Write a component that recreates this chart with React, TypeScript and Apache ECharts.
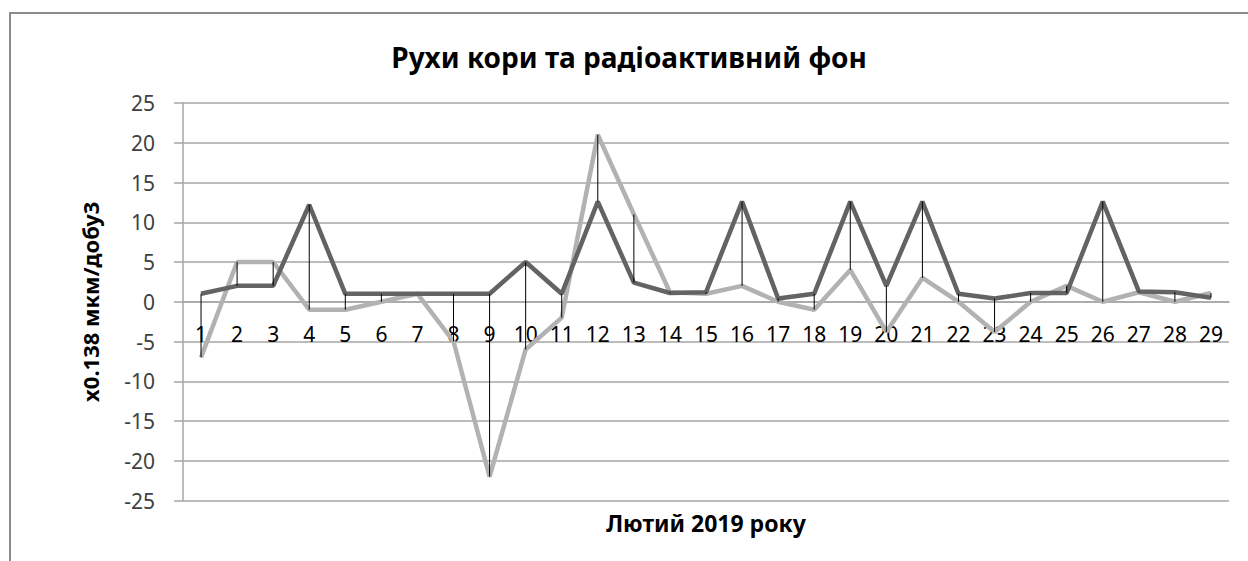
import React, { useEffect, useRef } from "react";
import * as echarts from "echarts";

const days = [
  "1", "2", "3", "4", "5", "6", "7", "8", "9", "10",
  "11", "12", "13", "14", "15", "16", "17", "18", "19", "20",
  "21", "22", "23", "24", "25", "26", "27", "28", "29",
];

// crust movement (dark line)
const crust = [
  1, 2, 2, 12.2, 1, 1, 1, 1, 1, 5,
  1, 12.6, 2.4, 1.1, 1.2, 12.6, 0.4, 1, 12.6, 2,
  12.6, 1, 0.4, 1.1, 1.1, 12.6, 1.3, 1.2, 0.5,
];

// radioactive background (light line)
const radiation = [
  -7, 5, 5, -1, -1, 0, 1, -5, -22, -6,
  -2, 21, 11, 1.2, 1, 2, 0, -1, 4, -3.8,
  3, 0, -3.8, 0, 2, 0, 1.2, 0, 1.1,
];

const yTicks = { min: -25, max: 25, interval: 5 };

const titleText = "Рухи кори та радіоактивний фон";
const yName = "x0.138 мкм/добу3";
const xName = "Лютий 2019 року";

export default function App() {
  const ref = useRef<HTMLDivElement>(null);

  useEffect(() => {
    document.body.style.margin = "0";
    if (!ref.current) return;
    const chart = echarts.init(ref.current, null, { renderer: "svg" });
    const font = "'Noto Sans', sans-serif";
    chart.setOption({
      animation: false,
      backgroundColor: "#ffffff",
      grid: { left: 183, top: 103, right: 19, bottom: 60.5, containLabel: false },
      graphic: [
        {
          type: "rect",
          shape: { x: 10, y: 13, width: 1260, height: 580 },
          style: { fill: "none", stroke: "#8c8c8c", lineWidth: 2 },
          silent: true,
          z: -10,
        },
        {
          type: "text",
          x: 629,
          y: 57,
          style: {
            text: titleText,
            fill: "#000",
            font: `bold 28px ${font}`,
            textAlign: "center",
            textVerticalAlign: "middle",
          },
        },
        {
          type: "text",
          x: 706,
          y: 523,
          style: {
            text: xName,
            fill: "#000",
            font: `bold 23px ${font}`,
            textAlign: "center",
            textVerticalAlign: "middle",
          },
        },
      ],
      xAxis: {
        type: "category",
        data: days,
        boundaryGap: true,
        offset: -198.75,
        axisLine: { show: true, onZero: false, lineStyle: { color: "#a6a6a6", width: 1.5 } },
        axisTick: { show: false },
        axisLabel: {
          interval: 0,
          margin: 22,
          color: "#000",
          fontSize: 21,
          fontFamily: font,
        },
        splitLine: { show: false },
      },
      yAxis: {
        type: "value",
        min: yTicks.min,
        max: yTicks.max,
        interval: yTicks.interval,
        name: yName,
        nameLocation: "middle",
        nameGap: 82,
        nameRotate: 90,
        nameTextStyle: { color: "#000", fontSize: 22, fontWeight: "bold", fontFamily: font },
        axisLine: { show: true, lineStyle: { color: "#a6a6a6", width: 1.5 } },
        axisTick: { show: true, length: 9, lineStyle: { color: "#a6a6a6", width: 1.5 } },
        axisLabel: { margin: 28, color: "#404040", fontSize: 21, fontFamily: font },
        splitLine: { show: true, lineStyle: { color: "#a6a6a6", width: 1.5 } },
      },
      series: [
        {
          type: "line",
          name: "crust",
          data: crust,
          symbol: "none",
          lineStyle: { color: "#636363", width: 4.5 },
          z: 3,
        },
        {
          type: "line",
          name: "radiation",
          data: radiation,
          symbol: "none",
          lineStyle: { color: "#b2b2b2", width: 4.5 },
          z: 2,
        },
        {
          type: "custom",
          name: "hilo",
          data: days.map((_, i) => [i, crust[i], radiation[i]]),
          encode: { x: 0, y: [1, 2] },
          z: 4,
          renderItem: (params: any, api: any) => {
            const i = api.value(0);
            const a = api.coord([i, api.value(1)]);
            const b = api.coord([i, api.value(2)]);
            return {
              type: "line",
              shape: { x1: a[0], y1: a[1], x2: b[0], y2: b[1] },
              style: { stroke: "#000", lineWidth: 1 },
            };
          },
        },
      ],
    });
    return () => chart.dispose();
  }, []);

  return <div ref={ref} style={{ width: 1248, height: 561 }} />;
}
